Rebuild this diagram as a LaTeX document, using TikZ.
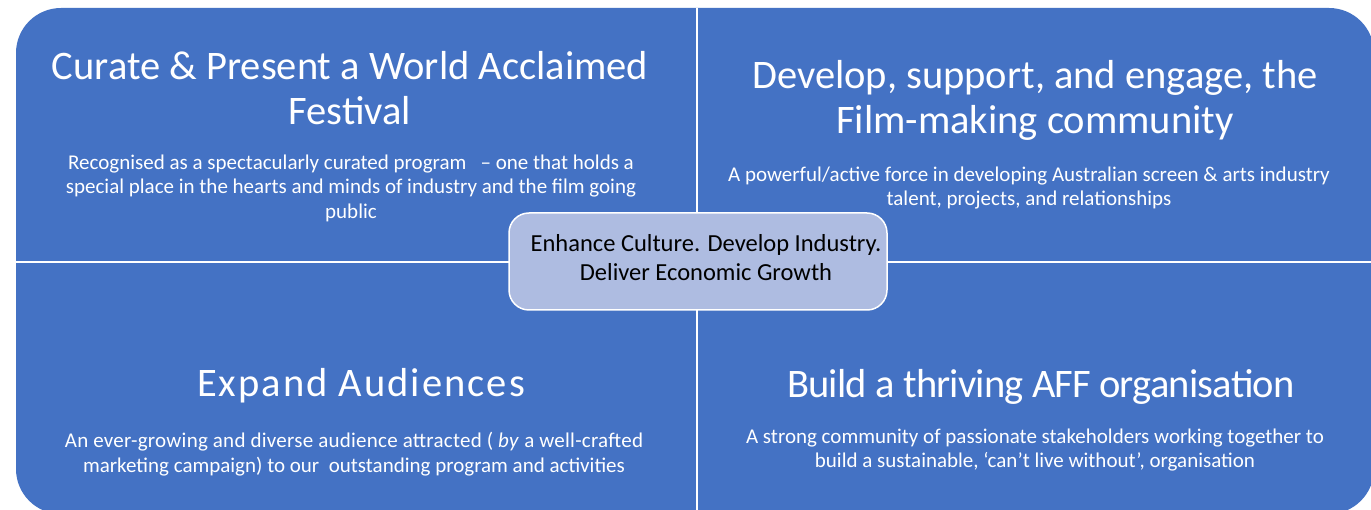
\documentclass[tikz,border=0pt]{standalone}
\usepackage{fontspec}
\setmainfont{Carlito}
\definecolor{quadblue}{RGB}{68,114,196}
\definecolor{centerfill}{RGB}{174,188,225}
\begin{document}
\begin{tikzpicture}[x=1pt,y=-1pt,
  titletext/.style={text=white,align=center,font=\fontsize{40.5}{45}\selectfont,inner sep=0pt},
  bodytext/.style={text=white,align=center,font=\fontsize{21}{24.5}\selectfont,inner sep=0pt},
  divider/.style={draw=white,line width=2pt}]
\useasboundingbox (0,0) rectangle (1371,510);
\fill[white] (0,0) rectangle (1371,510);
% outer quadrants
\fill[quadblue,rounded corners=45pt] (16,8) rectangle (1374,514);
\coordinate (vtop) at (697,8);
\coordinate (vbot) at (697,514);
\coordinate (hl) at (16,262);
\coordinate (hr) at (1374,262);
\draw[divider] (vtop) -- (vbot);
\draw[divider] (hl) -- (hr);
% quadrant texts
\node[titletext] (t1) at (350,88) {Curate \& Present a World Acclaimed\\Festival};
\node[bodytext] (b1) at (351,188) {Recognised as a spectacularly curated program \ \ -- one that holds a\\special place in the hearts and minds of industry and the film going\\public};
\node[titletext] (t2) at (1035,100) {Develop, support, and engage, the\\Film-making community};
\node[bodytext] (b2) at (1029,188) {A powerful/active force in developing Australian screen \& arts industry\\talent, projects, and relationships};
\node[titletext] (t3) at (361,386) {\addfontfeature{LetterSpace=5}Expand Audiences};
\node[bodytext] (b3) at (354,454) {\addfontfeature{LetterSpace=1.2}An ever-growing and diverse audience attracted ( \textit{by} a well-crafted\\marketing campaign) to our \ outstanding program and activities};
\node[titletext] (t4) at (1041,387) {\addfontfeature{LetterSpace=-2}Build a thriving AFF organisation};
\node[bodytext] (b4) at (1035,450) {A strong community of passionate stakeholders working together to\\build a sustainable, `can't live without', organisation};
% center box
\draw[white,fill=centerfill,line width=1.5pt,rounded corners=20pt] (509,213) rectangle (887,310);
\node[align=center,text=black,inner sep=0pt,font=\fontsize{24.5}{29}\selectfont] (c) at (706,258) {Enhance Culture. Develop Industry.\\Deliver Economic Growth};
\end{tikzpicture}
\end{document}
